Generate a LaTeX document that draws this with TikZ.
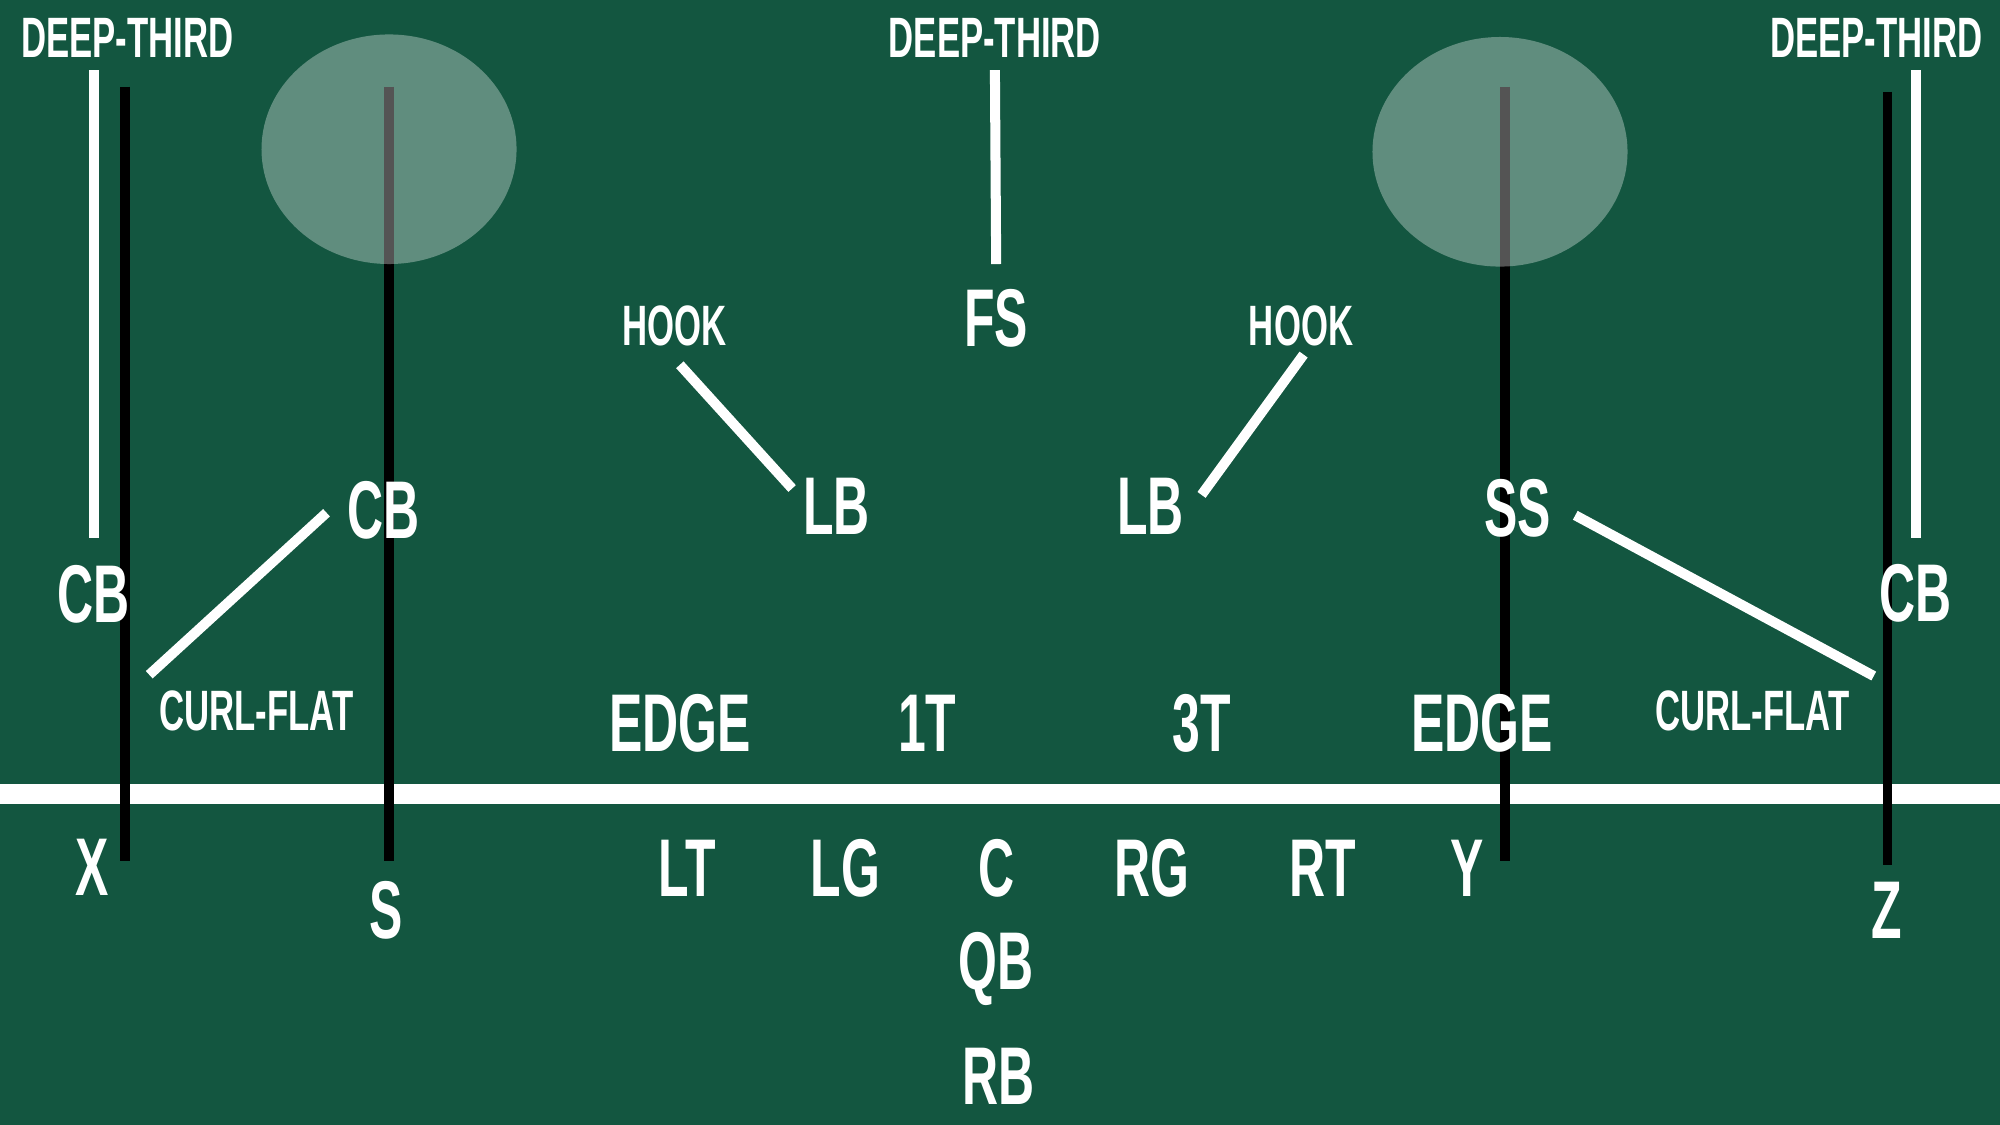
\documentclass[tikz,border=0pt]{standalone}
\usepackage{fontspec}
\setmainfont{Liberation Sans}[FakeStretch=0.61]
\definecolor{field}{RGB}{19,86,64}
\begin{document}
\begin{tikzpicture}[x=0.0127551cm,y=-0.0127551cm,
  lbl/.style={text=white,font=\bfseries\fontsize{16.2}{18}\selectfont,anchor=base,inner sep=0pt},
  big/.style={text=white,font=\bfseries\fontsize{23.3}{26}\selectfont,anchor=base,inner sep=0pt},
  wline/.style={draw=white,line width=2.85pt},
  bline/.style={draw=black,line width=2.65pt},
  zone/.style={fill=white,fill opacity=0.33}]
\fill[field] (0,0) rectangle (1568,882);
\useasboundingbox (0,0) rectangle (1568,882);
% line of scrimmage
\fill[white] (0,615) rectangle (1568,630);
% receiver routes (black)
\coordinate (xa) at (98,68);   \coordinate (xb) at (98,675);
\coordinate (sa) at (305,68);  \coordinate (sb) at (305,675);
\coordinate (ya) at (1180,68); \coordinate (yb) at (1180,675);
\coordinate (za) at (1480,72); \coordinate (zb) at (1480,678);
\draw[bline] (xa) -- (xb);
\draw[bline] (sa) -- (sb);
\draw[bline] (ya) -- (yb);
\draw[bline] (za) -- (zb);
% zones
\fill[zone] (305,117) ellipse [x radius=1.2755cm, y radius=1.148cm];
\fill[zone] (1176,119) ellipse [x radius=1.2755cm, y radius=1.148cm];
% labels
\node[lbl] (dtl) at (100,45) {DEEP-THIRD};
\node[lbl] (dtc) at (780,45) {DEEP-THIRD};
\node[lbl] (dtr) at (1471,45) {DEEP-THIRD};
\node[lbl] (hookl) at (529,271) {HOOK};
\node[lbl] (hookr) at (1020,271) {HOOK};
\node[lbl] (cfl) at (201,573) {CURL-FLAT};
\node[lbl] (cfr) at (1374,573) {CURL-FLAT};
\node[big] (fs) at (781,272) {FS};
\node[big] (lbl1) at (656,419) {LB};
\node[big] (lbr) at (902,419) {LB};
\node[big] (cbm) at (301,422) {CB};
\node[big] (ss) at (1190,421) {SS};
\node[big] (cbl) at (73,488) {CB};
\node[big] (cbr) at (1502,487) {CB};
\node[big] (edgel) at (533,589) {EDGE};
\node[big] (onet) at (727,589) {1T};
\node[big] (threet) at (942,589) {3T};
\node[big] (edger) at (1162,589) {EDGE};
\node[big] (x) at (72,702) {X};
\node[big] (s) at (303,736) {S};
\node[big] (lt) at (539,703) {LT};
\node[big] (lg) at (663,703) {LG};
\node[big] (c) at (781,703) {C};
\node[big] (rg) at (903,703) {RG};
\node[big] (rt) at (1037,703) {RT};
\node[big] (y) at (1150,703) {Y};
\node[big] (z) at (1479,736) {Z};
\node[big] (qb) at (781,776) {QB};
\node[big] (rb) at (783,866) {RB};
% coverage lines (white)
\coordinate (w1a) at (74,55);    \coordinate (w1b) at (74,422);
\coordinate (w2a) at (1502,55);  \coordinate (w2b) at (1502,422);
\coordinate (w3a) at (780,55);   \coordinate (w3b) at (781,207);
\coordinate (w4a) at (533,286);  \coordinate (w4b) at (621,383);
\coordinate (w5a) at (1022,278); \coordinate (w5b) at (942,388);
\coordinate (w6a) at (256,402);  \coordinate (w6b) at (117,529);
\coordinate (w7a) at (1235,404); \coordinate (w7b) at (1469,530);
\draw[wline] (w1a) -- (w1b);
\draw[wline] (w2a) -- (w2b);
\draw[wline] (w3a) -- (w3b);
\draw[wline] (w4a) -- (w4b);
\draw[wline] (w5a) -- (w5b);
\draw[wline] (w6a) -- (w6b);
\draw[wline] (w7a) -- (w7b);
\end{tikzpicture}
\end{document}
